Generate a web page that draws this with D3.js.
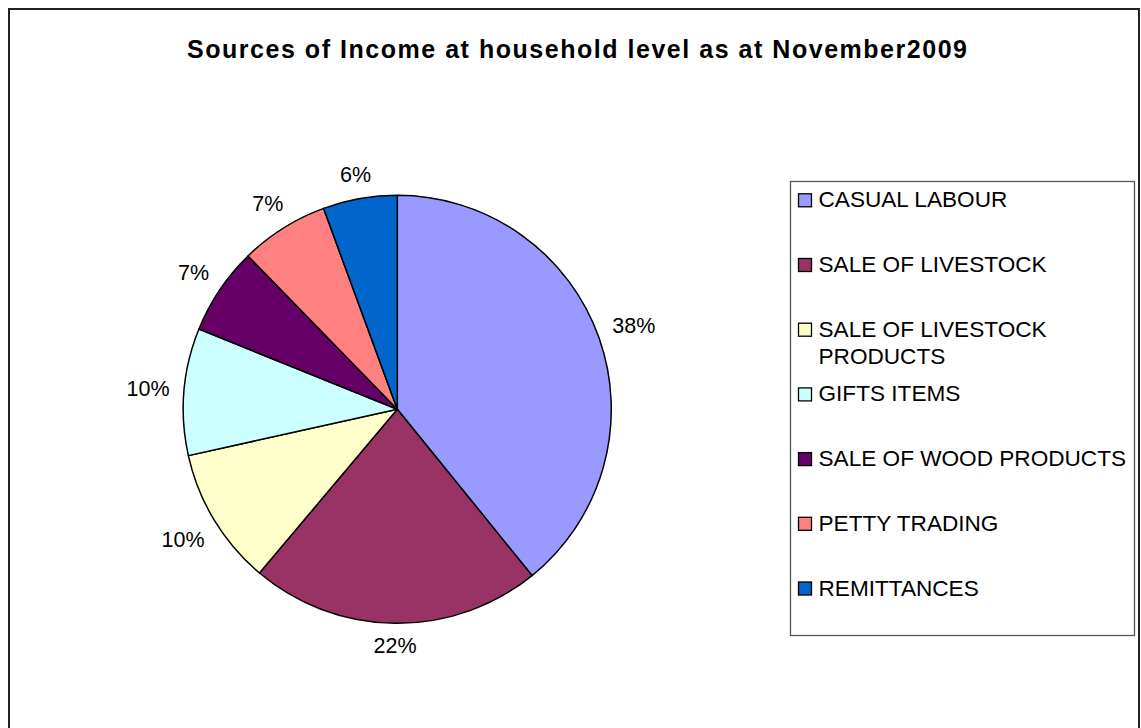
<!DOCTYPE html>
<html>
<head>
<meta charset="utf-8">
<script src="https://cdn.jsdelivr.net/npm/d3@7"></script>
<style>
  body { margin: 0; background: #fff; }
  svg { display: block; font-family: "Liberation Sans", Arial, sans-serif; }
</style>
</head>
<body>
<svg id="chart" width="1141" height="728"></svg>
<script>
const categories = ["CASUAL LABOUR", "SALE OF LIVESTOCK", "SALE OF LIVESTOCK PRODUCTS",
  "GIFTS ITEMS", "SALE OF WOOD PRODUCTS", "PETTY TRADING", "REMITTANCES"];
// shares
const shares = [39.2, 22.0, 10.4, 9.6, 6.6, 6.7, 5.6];
// percentage labels as printed on the chart
const percentLabels = ["38%", "22%", "10%", "10%", "7%", "7%", "6%"];
const colors = ["#9999FF", "#993366", "#FFFFCC", "#CCFFFF", "#660066", "#FF8080", "#0066CC"];
const title = "Sources of Income at household level as at November2009";

const svg = d3.select("#chart");

// outer frame
svg.append("rect")
  .attr("x", 9).attr("y", 9)
  .attr("width", 1130).attr("height", 760)
  .attr("fill", "none")
  .attr("stroke", "#222")
  .attr("stroke-width", 2);

svg.append("text")
  .attr("x", 577).attr("y", 58)
  .attr("text-anchor", "middle")
  .attr("font-size", 25)
  .attr("font-weight", "bold")
  .attr("textLength", 780)
  .attr("lengthAdjust", "spacing")
  .text(title);

const cx = 397.3, cy = 409.3, R = 214;

const pie = d3.pie().sort(null).value(d => d.v);
const arcs = pie(shares.map((v, i) => ({ v: v, i: i })));
const arc = d3.arc().innerRadius(0).outerRadius(R);

const g = svg.append("g").attr("transform", `translate(${cx},${cy})`);

g.selectAll("path")
  .data(arcs)
  .enter()
  .append("path")
  .attr("d", arc)
  .attr("fill", d => colors[d.data.i])
  .attr("stroke", "#000")
  .attr("stroke-width", 1.5)
  .attr("stroke-linejoin", "round");

// percentage labels, placed just outside the rim along the mid angle
const gap = 14;
g.selectAll("text.pct")
  .data(arcs)
  .enter()
  .append("text")
  .attr("class", "pct")
  .attr("font-size", 21.5)
  .attr("fill", "#000")
  .attr("text-anchor", "middle")
  .attr("dy", "0.36em")
  .text(d => percentLabels[d.data.i])
  .each(function (d) {
    const a = (d.startAngle + d.endAngle) / 2;
    const w = this.getComputedTextLength();
    const h = 16;
    const s = Math.sin(a), c = Math.cos(a);
    const r = R + gap + Math.abs(s) * w / 2 + Math.abs(c) * h / 2;
    d3.select(this).attr("x", s * r).attr("y", -c * r);
  });

// legend
const lx = 790, ly = 181, lw = 344, lh = 454;
svg.append("rect")
  .attr("x", lx + 0.5).attr("y", ly + 0.5)
  .attr("width", lw).attr("height", lh)
  .attr("fill", "#fff")
  .attr("stroke", "#555")
  .attr("stroke-width", 1.3);

const firstBase = 207.3, step = 64.7, lineGap = 27.3, maxW = 312;
const items = svg.append("g").selectAll("g")
  .data(categories)
  .enter()
  .append("g");

items.append("rect")
  .attr("x", 798.5)
  .attr("y", (d, i) => firstBase + i * step - 13.5)
  .attr("width", 13).attr("height", 13)
  .attr("fill", (d, i) => colors[i])
  .attr("stroke", "#000")
  .attr("stroke-width", 1.3);

items.append("text")
  .attr("x", 818.5)
  .attr("y", (d, i) => firstBase + i * step)
  .attr("font-size", 22.6)
  .attr("fill", "#000")
  .each(function (d) {
    const t = d3.select(this);
    const words = d.split(" ");
    let line = [];
    let span = t.append("tspan").attr("x", 818.5).attr("dy", 0);
    words.forEach(w => {
      line.push(w);
      span.text(line.join(" "));
      if (span.node().getComputedTextLength() > maxW && line.length > 1) {
        line.pop();
        span.text(line.join(" "));
        line = [w];
        span = t.append("tspan").attr("x", 818.5).attr("dy", lineGap).text(w);
      }
    });
  });
</script>
</body>
</html>
